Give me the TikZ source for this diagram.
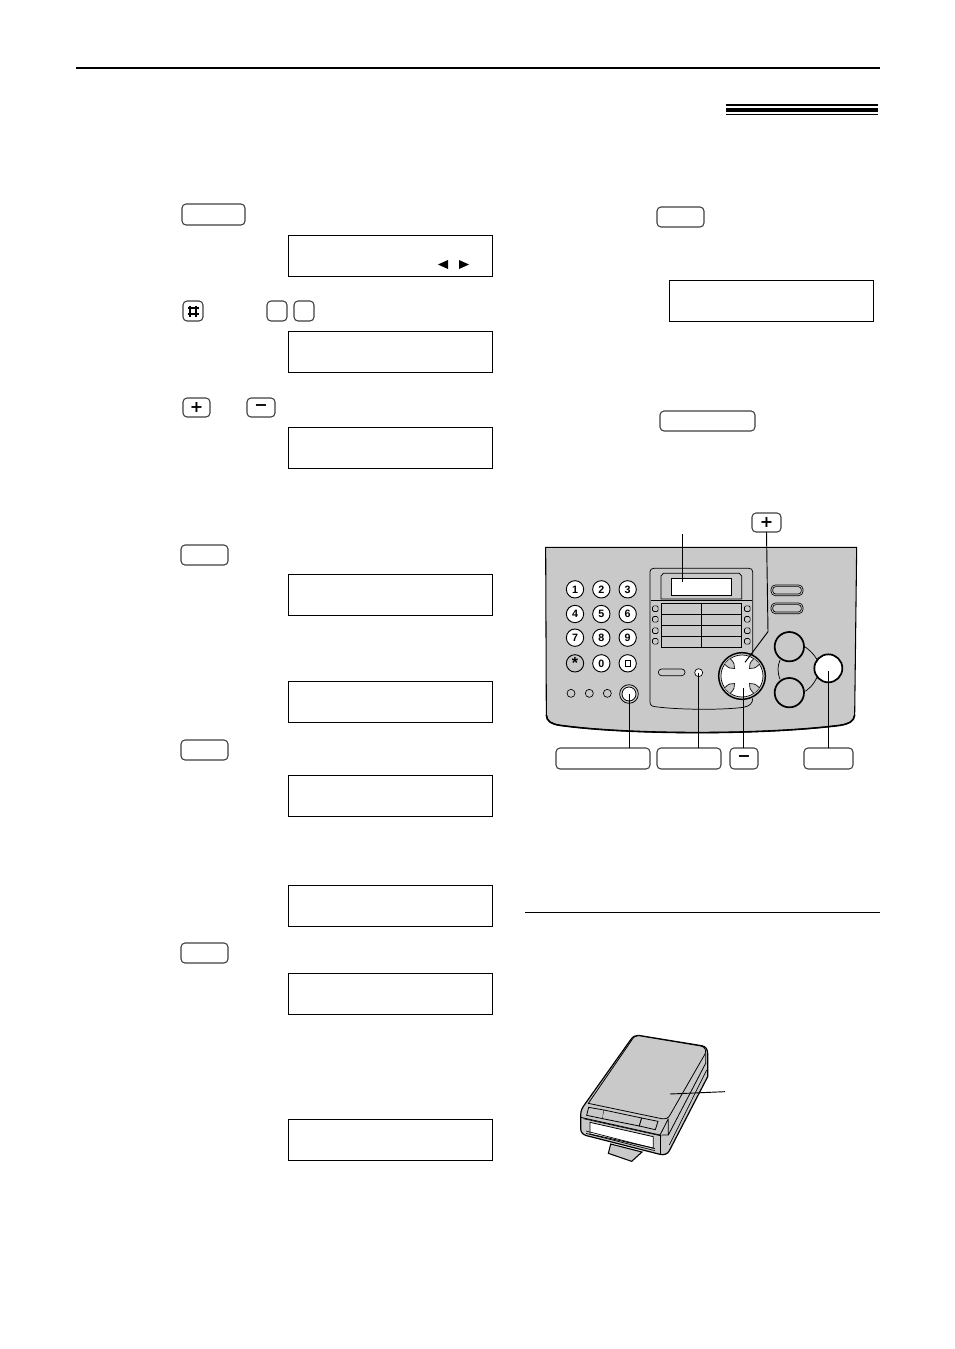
\documentclass[tikz,border=0pt]{standalone}
\usepackage{fontspec}
\setmainfont{Liberation Sans}
\newfontfamily\iconfont{DejaVu Sans}
\definecolor{panelgrey}{gray}{0.79}
\newcommand{\panelkey}[6]{%
  \pgfmathsetmacro\keyw{(#4-#2)*.75}\pgfmathsetmacro\keyh{(#5-#3)*.75}%
  \node[keystyle,minimum width=\keyw pt,minimum height=\keyh pt] (#1) at ({(#2+#4)/2},{(#3+#5)/2}) {#6};}
\tikzset{
  keystyle/.style={draw=black!75,fill=white,line width=.8pt,rounded corners=3pt,inner sep=0pt,outer sep=0pt,font=\iconfont\bfseries\fontsize{12}{12}\selectfont},
  lcdbox/.style={draw=black,fill=white,line width=.75pt,minimum width=152.6pt,minimum height=30.5pt,inner sep=0pt,outer sep=0pt},
  digitkey/.style={circle,draw=black,fill=white,line width=.7pt,minimum size=13pt,inner sep=0pt,font=\bfseries\fontsize{8}{8}\selectfont},
  leader/.style={draw=black,line width=.7pt},
  thin outline/.style={draw=black,line width=.55pt},
  ledkey/.style={draw=black,fill=panelgrey,line width=.5pt,rounded corners=1pt,minimum size=4.2pt,inner sep=0pt},
  ovalkey/.style={draw=black,fill=panelgrey,line width=.5pt,rounded corners=3.2pt,inner sep=0pt}
}
\begin{document}
\begin{tikzpicture}[x=.75pt,y=-.75pt]
\useasboundingbox (0,0) rectangle (954,1349);
% page rules
\fill (76,67) rectangle (880,69);
\fill (726,104) rectangle (878,106);
\fill (726,108) rectangle (878,112);
\fill (726,114) rectangle (878,115);
\draw[line width=.75pt] (525,912) -- (880,912);
% LCD boxes
\node[lcdbox] (lcdA) at (390.7,256) {};
\node[lcdbox] (lcdB) at (390.7,352) {};
\node[lcdbox] (lcdC) at (390.7,448) {};
\node[lcdbox] (lcdD) at (390.7,595) {};
\node[lcdbox] (lcdE) at (390.7,702) {};
\node[lcdbox] (lcdF) at (390.7,796) {};
\node[lcdbox] (lcdG) at (390.7,906) {};
\node[lcdbox] (lcdH) at (390.7,994) {};
\node[lcdbox] (lcdI) at (390.7,1140) {};
\node[lcdbox] (lcdJ) at (771.3,301) {};
\fill (438,264.5) -- (448,260) -- (448,269) -- cycle;
\fill (469,264.5) -- (459,260) -- (459,269) -- cycle;
% keys, left column
\panelkey{kA}{182}{204}{245}{225}{}
\panelkey{kHash}{183}{301}{203}{321}{}
\draw[line width=1.3pt] (190,305.5) -- (190,316.5) (196,305.5) -- (196,316.5) (187.5,308) -- (198.5,308) (187.5,314) -- (198.5,314);
\panelkey{kB}{267}{301}{287}{321}{}
\panelkey{kC}{294}{301}{314}{321}{}
\panelkey{kPlusA}{183}{398}{210}{417}{+}
\panelkey{kMinusA}{247}{398}{275}{417}{−}
\panelkey{kD}{181}{545}{228}{565}{}
\panelkey{kE}{181}{740}{228}{760}{}
\panelkey{kF}{181}{943}{228}{963}{}
\panelkey{kG}{657}{207}{704}{227}{}
\panelkey{kH}{660}{411}{755}{431}{}
% keys round the device
\panelkey{kPlus}{752}{513}{781}{532}{+}
\panelkey{kOne}{556}{748}{650}{769}{}
\panelkey{kTwo}{657}{748}{721}{769}{}
\panelkey{kMinus}{730}{748}{758}{769}{−}
\panelkey{kThree}{804}{748}{853}{769}{}
% device panel: coordinates are those of a 3x crop
\begin{scope}[shift={(530,500)},x=.25pt,y=-.25pt]
\fill[panelgrey,draw=black,line width=.8pt] (47,142) -- (980,142) -- (974,645)
  .. controls (972,665) and (955,672) .. (930,676)
  .. controls (700,705) and (300,705) .. (90,676)
  .. controls (65,672) and (50,665) .. (49,645) -- cycle;
\draw[line width=1.2pt] (49,645) .. controls (50,665) and (65,672) .. (90,676)
  .. controls (300,705) and (700,705) .. (930,676)
  .. controls (955,672) and (972,665) .. (974,645);
% control cluster frame
\draw[thin outline] (360,215) .. controls (360,208) and (365,205) .. (372,205) -- (656,205)
  .. controls (664,205) and (668,208) .. (668,216) -- (668,470);
\draw[thin outline] (360,215) -- (360,605) .. controls (360,615) and (365,619) .. (375,620)
  .. controls (450,630) and (580,630) .. (640,622) .. controls (660,618) and (668,610) .. (668,595);
\draw[thin outline] (362,300) -- (666,300);
\draw[thin outline] (393,228) -- (400,220) -- (628,220) -- (635,228) -- (635,297) -- (393,297) -- cycle;
\node[draw=black,fill=white,line width=.5pt,minimum width=45.5pt,minimum height=13pt,inner sep=0pt] (screen) at (514,261) {};
% one-touch table
\draw[thin outline] (393,310) rectangle (635,442);
\draw[thin outline] (514,310) -- (514,442) (393,343) -- (635,343) (393,376) -- (635,376) (393,408) -- (635,408);
\foreach \ledx/\side in {376/L,652/R}
  \foreach \ledy/\row in {326/a,358/b,392/c,424/d}
    \node[ledkey] (led\side\row) at (\ledx,\ledy) {};
% keypad
\node[digitkey] (d1) at (135,268) {1};
\node[digitkey] (d2) at (214,268) {2};
\node[digitkey] (d3) at (293,268) {3};
\node[digitkey] (d4) at (135,342) {4};
\node[digitkey] (d5) at (214,342) {5};
\node[digitkey] (d6) at (293,342) {6};
\node[digitkey] (d7) at (135,413) {7};
\node[digitkey] (d8) at (214,413) {8};
\node[digitkey] (d9) at (293,413) {9};
\node[digitkey,fill=panelgrey,font=\bfseries\fontsize{12}{12}\selectfont] (dStar) at (135,490) {\raisebox{-3pt}{*}};
\node[digitkey] (d0) at (214,490) {0};
\node[digitkey] (dSq) at (293,490) {};
\draw[line width=.7pt] (285,482) rectangle (301,498);
% small round keys
\foreach \smallx/\smalln in {123/a,178/b,232/c}
  \node[circle,draw=black,fill=panelgrey,line width=.5pt,minimum size=6pt,inner sep=0pt] (small\smalln) at (\smallx,580) {};
\node[circle,draw=black,fill=panelgrey,line width=.6pt,minimum size=14pt,inner sep=0pt] (knobOut) at (297,582) {};
\node[circle,draw=black,fill=white,line width=.6pt,minimum size=10.5pt,inner sep=0pt] (knob) at (297,582) {};
\node[ovalkey,minimum width=20pt,minimum height=5pt,rounded corners=2.4pt] (ovalC) at (425,517) {};
\node[circle,draw=black,fill=white,line width=.5pt,minimum size=6pt,inner sep=0pt] (dot) at (506,518) {};
% two oval keys
\foreach \ovy/\ovn in {271/a,325/b} {
  \node[ovalkey,minimum width=24pt,minimum height=8pt] (ovalO\ovn) at (771,\ovy) {};
  \node[ovalkey,minimum width=21.5pt,minimum height=5.6pt,rounded corners=2.4pt] (ovalI\ovn) at (771,\ovy) {};
}
% big round keys and their link
\draw[thin outline] (815,435) .. controls (835,445) and (850,460) .. (862,480);
\draw[thin outline] (815,578) .. controls (835,572) and (850,555) .. (862,530);
\draw[thin outline] (750,480) .. controls (742,500) and (742,515) .. (750,538);
\node[circle,draw=black,fill=panelgrey,line width=1.3pt,minimum size=22pt,inner sep=0pt] (bigA) at (778,440) {};
\node[circle,draw=black,fill=panelgrey,line width=1.3pt,minimum size=22pt,inner sep=0pt] (bigB) at (778,578) {};
\node[circle,draw=black,fill=white,line width=1.3pt,minimum size=21pt,inner sep=0pt] (bigC) at (895,505) {};
% dial
\node[circle,draw=black,fill=panelgrey,line width=1.1pt,minimum size=35pt,inner sep=0pt] (dial) at (636,528) {};
\draw[line width=.5pt,fill=white] (636,528) circle[radius=63];
\foreach \petal in {45,135,225,315}
  \draw[line width=.5pt,fill=panelgrey,rotate around={\petal:(636,528)}] (698,516) .. controls (680,516) and (675,520) .. (668,528) .. controls (675,536) and (680,540) .. (698,540);
% connectors
\coordinate (tipScreen) at (457,245);
\coordinate (freeScreen) at (457,102);
\coordinate (bendPlus) at (714,395);
\coordinate (tipPlus) at (645,487);
\coordinate (tipDial) at (640,565);
\end{scope}
\draw[leader] (freeScreen) -- (tipScreen);
\draw[leader] (kPlus.south) -- (bendPlus) -- (tipPlus);
\draw[leader] (kOne.north -| knob) -- (knob.center);
\draw[leader] (kTwo.north -| dot) -- (dot.center);
\draw[leader] (kMinus.north -| tipDial) -- (tipDial);
\draw[leader] (kThree.north -| bigC) -- ([yshift=-2pt]bigC.center);
% cassette: coordinates are those of a 3x crop
\begin{scope}[shift={(540,1020)},x=.25pt,y=-.25pt]
\draw[fill=panelgrey,line width=.8pt] (212,372) -- (205,400) -- (275,424) -- (306,396) -- cycle;
\draw[line width=.9pt,fill=panelgrey] (295,46) -- (485,77) .. controls (497,79) and (503,88) .. (503,100) -- (503,170) -- (388,392) .. controls (383,402) and (372,406) .. (360,403) -- (140,347) .. controls (128,344) and (122,336) .. (122,325) -- (122,285) .. controls (122,270) and (128,262) .. (135,252) -- (270,62) .. controls (278,50) and (285,45) .. (295,46) -- cycle;
\draw[line width=.6pt,fill=panelgrey] (295,47) -- (482,78) .. controls (495,80) and (500,92) .. (495,102) -- (390,285) .. controls (385,295) and (378,297) .. (365,296) -- (145,250) -- (272,65) .. controls (280,52) and (286,46) .. (295,47) -- cycle;
\draw[line width=.6pt] (497,100) -- (497,130) -- (385,345) (122,292) -- (360,345) -- (385,296) (385,296) -- (385,345) -- (365,345);
\draw[line width=.5pt] (500,150) -- (388,375);
\draw[line width=.5pt] (360,345) -- (360,402);
\draw[line width=.6pt,fill=panelgrey] (146,262) -- (192,270) -- (188,296) -- (140,286) -- cycle;
\draw[line width=.6pt,fill=panelgrey] (192,270) -- (305,294) -- (298,318) -- (188,296);
\draw[line width=.6pt,fill=panelgrey] (305,294) -- (354,304) -- (346,329) -- (298,318) -- cycle;
\draw[line width=.5pt] (130,296) -- (365,348);
\draw[line width=.6pt,fill=white] (150,307) -- (340,350) -- (340,384) -- (150,342) -- cycle;
\draw[line width=.5pt] (138,340) -- (345,392) (138,333) -- (345,386);
\coordinate (labelEnd) at (555,215);
\coordinate (labelTip) at (390,222);
\draw[leader] (labelEnd) -- (labelTip);
\end{scope}
\end{tikzpicture}
\end{document}
